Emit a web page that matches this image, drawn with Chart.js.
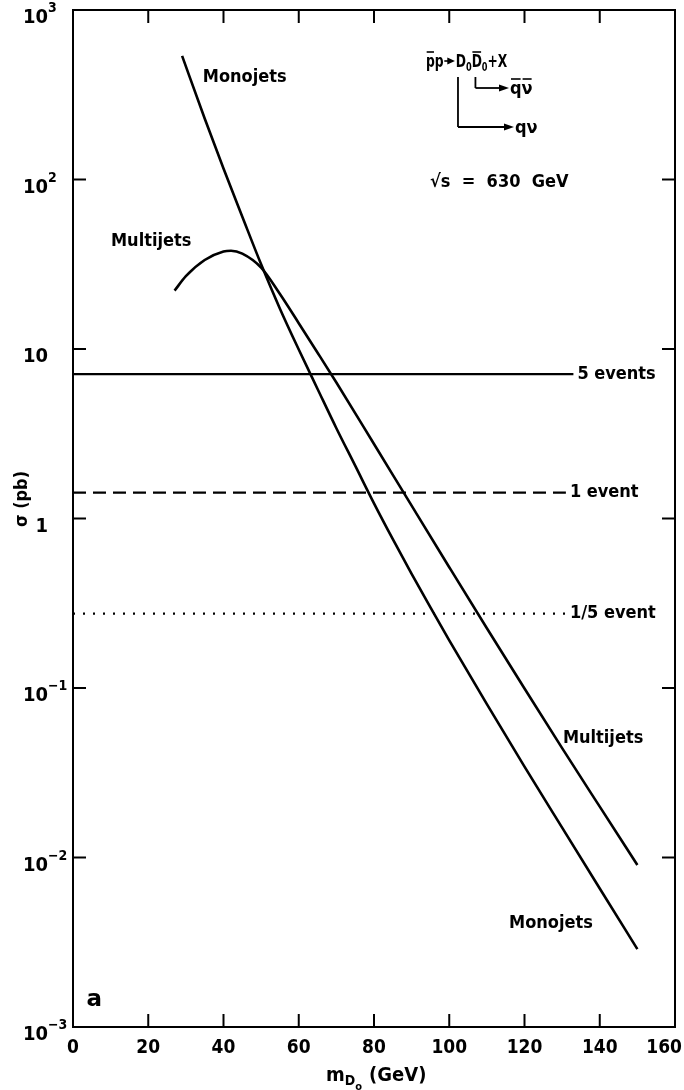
<!DOCTYPE html>
<html>
<head>
<meta charset="utf-8">
<script src="https://cdn.jsdelivr.net/npm/chart.js@4.4.1/dist/chart.umd.min.js"></script>
<style>
  html, body { margin: 0; padding: 0; background: #fff; }
  #wrap { width: 684px; height: 1090px; position: relative; }
  canvas { display: block; }
</style>
</head>
<body>
<div id="wrap"><canvas id="c" width="684" height="1090"></canvas></div>
<script>
// D0 pair production cross-section vs. D0 mass, sqrt(s) = 630 GeV
const monoMass  = [29, 35, 40, 45, 50, 55, 60, 65, 70, 75, 80, 85, 90, 95, 100, 110, 120, 130, 140, 150];
const monoSigma = [536, 229, 116, 60.3, 31.6, 17.3, 9.93, 5.81, 3.41, 2.05, 1.229, 0.755, 0.472, 0.299, 0.191, 0.0804, 0.0344, 0.0150, 0.00656, 0.00288];

const multiMass  = [27, 30, 35, 40, 42, 45, 50, 55, 60, 65, 70, 80, 90, 100, 110, 120, 130, 140, 150];
const multiSigma = [22.1, 26.9, 33.5, 37.6, 38.0, 36.5, 30.2, 21.1, 14.2, 9.51, 6.34, 2.75, 1.19, 0.516, 0.225, 0.0993, 0.0442, 0.01995, 0.00904];

// Event-count sensitivity levels
const eventSigma  = [7.1, 1.42, 0.275];
const eventLabels = ['5 events', '1 event', '1/5 event'];
const eventEndMass = [133, 131, 131];

// Axis ticks
const xTicks = [0, 20, 40, 60, 80, 100, 120, 140, 160];
const yTicks = [1e-3, 1e-2, 1e-1, 1, 10, 1e2, 1e3];
const yTickBase = ['10', '10', '10', '1', '10', '10', '10'];
const yTickExp  = ['\u22123', '\u22122', '\u22121', '', '', '2', '3'];

const FONT = '"DejaVu Sans Condensed", "DejaVu Sans", sans-serif';

function pts(xs, ys) { return xs.map((v, i) => ({ x: v, y: ys[i] })); }

const datasets = [
  { data: pts(monoMass, monoSigma), borderColor: '#000', borderWidth: 2.6, pointRadius: 0, cubicInterpolationMode: 'monotone', fill: false },
  { data: pts(multiMass, multiSigma), borderColor: '#000', borderWidth: 2.6, pointRadius: 0, cubicInterpolationMode: 'monotone', fill: false }
];
const dashStyles = [[], [13, 7], [2, 8]];
eventSigma.forEach((s, i) => {
  datasets.push({
    data: [{ x: 0, y: s }, { x: eventEndMass[i], y: s }],
    borderColor: '#000', borderWidth: 2.2, borderDash: dashStyles[i],
    pointRadius: 0, fill: false, tension: 0
  });
});

function line(ctx, x1, y1, x2, y2) {
  ctx.beginPath(); ctx.moveTo(x1, y1); ctx.lineTo(x2, y2); ctx.stroke();
}
function arrowHead(ctx, x, y) {
  ctx.beginPath(); ctx.moveTo(x, y); ctx.lineTo(x - 10, y - 3.5); ctx.lineTo(x - 10, y + 3.5); ctx.closePath(); ctx.fill();
}
// text with optional overbar; returns advance width
function piece(ctx, txt, x, y, font, bar) {
  ctx.font = font;
  ctx.fillText(txt, x, y);
  const w = ctx.measureText(txt).width;
  if (bar) {
    ctx.lineWidth = 1.6;
    line(ctx, x + 1, y - 15, x + w - 1, y - 15);
  }
  return w;
}

const frameAndText = {
  id: 'frameAndText',
  afterDatasetsDraw(chart) {
    const { ctx, chartArea: a, scales: { x, y } } = chart;
    ctx.save();
    ctx.strokeStyle = '#000';
    ctx.fillStyle = '#000';
    ctx.lineWidth = 2;
    ctx.strokeRect(a.left, a.top, a.right - a.left, a.bottom - a.top);

    // inward ticks on all four sides, labels below the bottom axis
    ctx.font = 'bold 19px ' + FONT;
    ctx.textAlign = 'center';
    ctx.textBaseline = 'middle';
    xTicks.forEach(v => {
      const px = x.getPixelForValue(v);
      line(ctx, px, a.bottom, px, a.bottom - 13);
      line(ctx, px, a.top, px, a.top + 13);
      const w = ctx.measureText(String(v)).width;
      const cx = Math.min(px, chart.width - 2 - w / 2);
      ctx.fillText(String(v), cx, a.bottom + 21);
    });
    yTicks.forEach(v => {
      const py = y.getPixelForValue(v);
      line(ctx, a.left, py, a.left + 13, py);
      line(ctx, a.right, py, a.right - 13, py);
    });

    // y tick labels with superscript exponents
    ctx.textBaseline = 'alphabetic';
    yTicks.forEach((v, i) => {
      const py = y.getPixelForValue(v);
      ctx.font = 'bold 20px ' + FONT;
      ctx.textAlign = 'right';
      ctx.fillText(yTickBase[i], 48, py + 13);
      if (yTickExp[i]) {
        ctx.font = 'bold 14px ' + FONT;
        ctx.textAlign = 'left';
        ctx.fillText(yTickExp[i], 48, py + 2);
      }
    });

    // y axis title
    ctx.save();
    ctx.translate(27, 499);
    ctx.rotate(-Math.PI / 2);
    ctx.textAlign = 'center';
    ctx.font = 'bold 18px ' + FONT;
    ctx.fillText('\u03c3 (pb)', 0, 0);
    ctx.restore();

    // x axis title: m_{D_o} (GeV)
    ctx.textAlign = 'left';
    let tx = 326, ty = 1081;
    ctx.font = 'bold 20px ' + FONT;
    ctx.fillText('m', tx, ty); tx += ctx.measureText('m').width;
    ctx.font = 'bold 14px ' + FONT;
    ctx.fillText('D', tx, ty + 4); tx += ctx.measureText('D').width;
    ctx.font = 'bold 11px ' + FONT;
    ctx.fillText('o', tx, ty + 9); tx += ctx.measureText('o').width + 7;
    ctx.font = 'bold 20px ' + FONT;
    ctx.fillText('(GeV)', tx, ty);

    // curve and level labels
    ctx.font = 'bold 18px ' + FONT;
    ctx.textBaseline = 'middle';
    ctx.textAlign = 'left';
    ctx.fillText('Monojets', x.getPixelForValue(34.5), y.getPixelForValue(403));
    ctx.fillText('Multijets', x.getPixelForValue(10.1), y.getPixelForValue(43.4));
    ctx.fillText('Multijets', x.getPixelForValue(130.2), y.getPixelForValue(0.0507));
    ctx.fillText('Monojets', x.getPixelForValue(115.9), y.getPixelForValue(0.0041));
    eventSigma.forEach((s, i) => {
      ctx.fillText(eventLabels[i], x.getPixelForValue(eventEndMass[i]) + 4, y.getPixelForValue(s));
    });

    // panel letter
    ctx.font = 'bold 23px "DejaVu Sans", sans-serif';
    ctx.fillText('a', x.getPixelForValue(3.6), y.getPixelForValue(0.00145));

    // sqrt(s)
    ctx.font = 'bold 18px ' + FONT;
    ctx.fillText('\u221as  =  630  GeV', x.getPixelForValue(94.9), y.getPixelForValue(96.6));

    // reaction with decay branches (compressed horizontally)
    ctx.textBaseline = 'alphabetic';
    const big = 'bold 18px ' + FONT, sub = 'bold 12px ' + FONT;
    const sx = 0.76;
    const ox = x.getPixelForValue(93.8);
    const ry = y.getPixelForValue(461);
    ctx.save();
    ctx.translate(ox, 0);
    ctx.scale(sx, 1);
    let rx = 0;
    rx += piece(ctx, 'p', rx, ry, big, true);
    rx += piece(ctx, 'p', rx, ry, big, false);
    ctx.lineWidth = 1.6;
    line(ctx, rx + 1, ry - 6, rx + 12, ry - 6);
    arrowHead(ctx, rx + 15, ry - 6);
    rx += 16;
    const d1 = rx;
    rx += piece(ctx, 'D', rx, ry, big, false);
    rx += piece(ctx, '0', rx, ry + 4, sub, false);
    const d2 = rx;
    rx += piece(ctx, 'D', rx, ry, big, true);
    rx += piece(ctx, '0', rx, ry + 4, sub, false);
    rx += piece(ctx, '+X', rx, ry, big, false);
    ctx.restore();

    const b1x = ox + (d1 + 3) * sx, b2x = ox + (d2 + 5) * sx;
    ctx.lineWidth = 1.8;
    // D0 -> q nu
    const b1y = ry + 60;
    line(ctx, b1x, ry + 10, b1x, b1y);
    line(ctx, b1x, b1y, 505, b1y);
    arrowHead(ctx, 514, b1y);
    piece(ctx, 'q\u03bd', 515, b1y + 6, big, false);
    // D0bar -> qbar nubar
    ctx.lineWidth = 1.8;
    const b2y = ry + 21;
    line(ctx, b2x, ry + 10, b2x, b2y);
    line(ctx, b2x, b2y, 500, b2y);
    arrowHead(ctx, 509, b2y);
    let qx = 510;
    qx += piece(ctx, 'q', qx, b2y + 6, big, true);
    piece(ctx, '\u03bd', qx, b2y + 6, big, true);

    ctx.restore();
  }
};

new Chart(document.getElementById('c'), {
  type: 'line',
  data: { datasets },
  options: {
    responsive: false,
    animation: false,
    devicePixelRatio: 1,
    layout: { padding: { top: 10, right: 9, left: 0, bottom: 0 } },
    plugins: { legend: { display: false }, tooltip: { enabled: false } },
    scales: {
      x: {
        type: 'linear', min: 0, max: 160,
        grid: { display: false, drawTicks: false },
        border: { display: false },
        ticks: { display: false },
        afterFit(s) { s.height = 63; }
      },
      y: {
        type: 'logarithmic', min: 0.001, max: 1000,
        grid: { display: false, drawTicks: false },
        border: { display: false },
        ticks: { display: false },
        afterFit(s) { s.width = 73; }
      }
    }
  },
  plugins: [frameAndText]
});
</script>
</body>
</html>
